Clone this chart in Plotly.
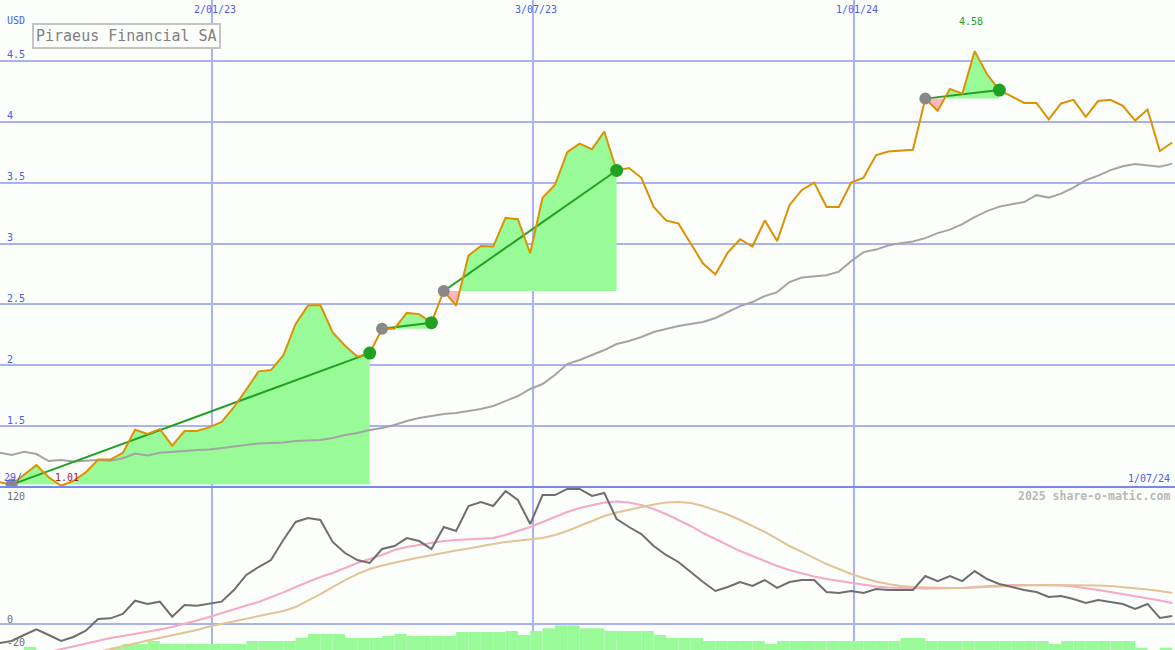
import numpy as np
import pandas as pd
import plotly.graph_objects as go

# ---------------- data ----------------
dates = pd.date_range("2022-09-03 15:00", periods=96, freq="7D")

price = [1.04, 1.02, 1.10, 1.18, 1.08, 1.01, 1.05, 1.12, 1.225, 1.225, 1.28,
         1.47, 1.435, 1.475, 1.34, 1.46, 1.46, 1.49, 1.535, 1.655, 1.80,
         1.95, 1.96, 2.08, 2.34, 2.49, 2.495, 2.27, 2.16, 2.07, 2.10,
         2.30, 2.30, 2.43, 2.42, 2.35, 2.61, 2.49, 2.90, 2.98, 2.975,
         3.21, 3.20, 2.92, 3.375, 3.48, 3.75, 3.82, 3.775, 3.92, 3.60,
         3.62, 3.54, 3.30, 3.19, 3.165, 3.00, 2.835, 2.745, 2.925, 3.035,
         2.975, 3.19, 3.02, 3.315, 3.44, 3.50, 3.30, 3.30, 3.50, 3.54,
         3.725, 3.755, 3.76, 3.77, 4.19, 4.09, 4.27, 4.23, 4.58, 4.39,
         4.26, 4.205, 4.155, 4.155, 4.02, 4.15, 4.18, 4.04, 4.17, 4.18,
         4.13, 4.01, 4.10, 3.76, 3.83]

moving_avg = [1.282, 1.263, 1.29, 1.271, 1.213, 1.222, 1.209, 1.218, 1.222, 1.216,
              1.236, 1.275, 1.259, 1.282, 1.287, 1.296, 1.304, 1.308, 1.32, 1.332,
              1.345, 1.357, 1.361, 1.365, 1.378, 1.382, 1.386, 1.402, 1.427, 1.443,
              1.468, 1.484, 1.509, 1.542, 1.566, 1.583, 1.599, 1.607, 1.624, 1.64,
              1.665, 1.706, 1.747, 1.805, 1.846, 1.92, 2.01, 2.043, 2.084, 2.125,
              2.174, 2.199, 2.232, 2.273, 2.297, 2.322, 2.338, 2.355, 2.388, 2.437,
              2.486, 2.519, 2.568, 2.601, 2.683, 2.72, 2.732, 2.74, 2.769, 2.855,
              2.929, 2.95, 2.983, 3.003, 3.016, 3.044, 3.085, 3.114, 3.159, 3.217,
              3.266, 3.303, 3.323, 3.34, 3.397, 3.377, 3.41, 3.459, 3.52, 3.557,
              3.603, 3.635, 3.652, 3.644, 3.631, 3.656]

# trend segments: (start index, end index) into the arrays above
segments = [(1, 30), (31, 35), (36, 50), (75, 81)]

momentum = [-16.3, -14.5, -9.3, -4.3, -9.3, -14.5, -11, -5.6, 4.6, 5.2,
            9.0, 20.5, 17.7, 19.7, 6.6, 16.8, 16.2, 17.7, 19.7, 29.8,
            42.9, 49.8, 55.9, 73.3, 89.0, 92.4, 90.7, 71.6, 62, 55.9,
            53.3, 65.5, 68.1, 75, 72.4, 65.5, 84.6, 81.1, 102.9, 106.3,
            102.9, 115.9, 108.1, 87.2, 112.4, 112.4, 117.7, 117.7, 111.6, 114.2,
            91.6, 84.6, 78.5, 68.1, 60.3, 54.2, 45.5, 36.8, 29, 32.4,
            36.8, 33.3, 38.5, 31.6, 36.8, 38.5, 38.5, 28.1, 27.2, 29,
            27.2, 30.7, 29.8, 29.8, 29.8, 42, 37.6, 42, 37.6, 46.3,
            39.4, 35, 32.4, 29.8, 28.1, 23.7, 24.6, 22, 18.5, 21.1,
            19.4, 17.7, 13.3, 17.7, 5.5, 7.2]

signal_fast = [None, None, None, None, -24.1, -21.7, -18.9, -16.5, -14, -11.9,
               -10.2, -8.4, -6.7, -4.5, -2.3, 0.3, 3.3, 6.3, 9.8, 12.9,
               16.3, 19.4, 23.3, 27.7, 32.4, 36.8, 41.1, 44.6, 49, 53.3,
               56.8, 60.3, 64.6, 67.2, 69, 70.7, 72.4, 73.3, 73.7, 74.2,
               75, 77.7, 81.1, 84.6, 89, 93.3, 97.7, 101.1, 103.7, 105.9,
               106.8, 105.9, 103.7, 100.3, 95.9, 90.7, 85.5, 79.4, 74.2, 69,
               63.7, 59.4, 55, 50.7, 47.2, 44.2, 41.6, 39.4, 37.7, 35.9,
               34.2, 32.9, 32, 31.6, 31.1, 31.1, 31.1, 31.1, 31.6, 32.4,
               33.3, 33.7, 34.2, 34.2, 34.2, 34.2, 33.7, 32.9, 31.6, 29.8,
               28.1, 26.3, 24.6, 22.9, 20.7, 18.5]

signal_slow = [None, None, None, None, None, None, None, None, -24, -21.7,
               -19.3, -16.7, -14.1, -11.9, -9.7, -7.6, -5, -1.9, 0.3, 2.4,
               4.6, 6.8, 9, 11.6, 15, 20.3, 26.3, 32.4, 38.5, 43.7,
               48.1, 51.1, 53.7, 55.9, 58.1, 60.3, 62, 64.2, 65.9, 68.1,
               69.8, 71.6, 72.9, 73.7, 75, 77.7, 81.1, 85.5, 89.8, 94.2,
               97.2, 99.8, 102, 104.2, 105.9, 106.3, 105.5, 102.9, 99.4, 95.5,
               90.7, 85.5, 80.3, 74.2, 68.1, 62.9, 57.7, 52.4, 48.1, 43.7,
               40.3, 37.2, 35, 33.3, 32.4, 32, 31.6, 31.6, 31.6, 32,
               32.4, 33.3, 33.7, 34.2, 34.2, 34.2, 34.2, 34.2, 34.2, 33.7,
               33.3, 32.4, 31.6, 30.3, 29, 27.2]

bar_tops = [None, None, -19.7, None, None, None, None, None, None, -20.3,
            -17.1, -17.1, -14.5, -17.1, -17.1, -17.1, -17.1, -17.1, -17.1, -17.1,
            -14.5, -14.5, -14.5, -14.5, -11.7, -8.4, -8.4, -8.4, -11.9, -11.9,
            -11.9, -10.2, -8.4, -10.2, -10.2, -10.2, -10.2, -6.7, -6.7, -6.7,
            -6.7, -5.8, -9.3, -5.8, -3.5, -0.9, -0.9, -3.5, -3.5, -5.8,
            -5.8, -5.8, -5.8, -9.3, -11.9, -11.9, -11.9, -14.5, -14.5, -14.5,
            -14.5, -14.5, -17.1, -14.5, -14.5, -14.5, -14.5, -14.5, -14.5, -14.5,
            -14.5, -14.5, -14.5, -11.9, -11.9, -14.5, -14.5, -14.5, -14.5, -14.5,
            -14.5, -14.5, -14.5, -14.5, -14.5, -17.1, -14.5, -14.5, -14.5, -14.5,
            -14.5, -14.5, -20.3, None, -20.3, None]

x_ticks = ["2023-01-02", "2023-07-03", "2024-01-01"]
x_tick_labels = ["2/01/23", "3/07/23", "1/01/24"]
y_ticks = [1.5, 2, 2.5, 3, 3.5, 4, 4.5]
y_tick_labels = ["1.5", "2", "2.5", "3", "3.5", "4", "4.5"]
y2_ticks = [120, 0, -20]
title = "Piraeus Financial SA"

# ---------------- styling ----------------
W, H = 1175, 650
SPLIT = 163 / H
BG = "#fcfefc"
GRID = "#a9b3f2"
BLUE = "#4a5cf0"
FONT = "DejaVu Sans Mono"
X_RANGE = ["2022-09-04 00:00", "2024-07-01 05:00"]
Y1_RANGE = [1.0, 5.0]
Y2_RANGE = [-22.35, 119.4]

fig = go.Figure()

# --- filled trend areas ---
tns = dates.values.astype("datetime64[ns]").astype(np.int64)
for s, e in segments:
    base = price[s]
    xs, ys = [tns[s]], [price[s]]
    for k in range(s, e):
        d0, d1 = price[k] - base, price[k + 1] - base
        if d0 * d1 < 0:
            f = d0 / (d0 - d1)
            xs.append(int(tns[k] + f * (tns[k + 1] - tns[k])))
            ys.append(base)
        xs.append(tns[k + 1])
        ys.append(price[k + 1])
    xd = pd.to_datetime(np.array(xs, dtype=np.int64))
    ya = np.array(ys)
    for arr, col in ((np.maximum(ya, base), "#98fb98"), (np.minimum(ya, base), "#ffb6c1")):
        fig.add_trace(go.Scatter(x=xd, y=[base] * len(xd), mode="lines",
                                 line=dict(width=0, color=col), hoverinfo="skip",
                                 showlegend=False))
        fig.add_trace(go.Scatter(x=xd, y=arr, mode="lines", fill="tonexty",
                                 fillcolor=col, line=dict(width=0, color=col),
                                 hoverinfo="skip", showlegend=False))

# --- moving average ---
fig.add_trace(go.Scatter(x=dates, y=moving_avg, mode="lines",
                         line=dict(color="#a4a4a4", width=2), showlegend=False))

# --- trend lines ---
for s, e in segments:
    fig.add_trace(go.Scatter(x=[dates[s], dates[e]], y=[price[s], price[e]],
                             mode="lines", line=dict(color="#22a022", width=2),
                             showlegend=False))

# --- price ---
fig.add_trace(go.Scatter(x=dates, y=price, mode="lines",
                         line=dict(color="#dc9200", width=2), showlegend=False))

# --- markers ---
fig.add_trace(go.Scatter(x=[dates[s] for s, e in segments],
                         y=[price[s] for s, e in segments], mode="markers",
                         marker=dict(color="#888888", size=12), showlegend=False))
fig.add_trace(go.Scatter(x=[dates[e] for s, e in segments],
                         y=[price[e] for s, e in segments], mode="markers",
                         marker=dict(color="#22a022", size=13), showlegend=False))

# --- lower panel ---
bar_len = [None if v is None else v - Y2_RANGE[0] for v in bar_tops]
fig.add_trace(go.Bar(x=dates, y=bar_len, base=Y2_RANGE[0], width=7 * 86400000,
                     offset=0, marker=dict(color="#98fb98", line=dict(width=0)),
                     xaxis="x2", yaxis="y2", showlegend=False))
fig.add_trace(go.Scatter(x=dates, y=signal_fast, mode="lines",
                         line=dict(color="#f6a8c4", width=2),
                         xaxis="x2", yaxis="y2", showlegend=False))
fig.add_trace(go.Scatter(x=dates, y=signal_slow, mode="lines",
                         line=dict(color="#e2c494", width=2),
                         xaxis="x2", yaxis="y2", showlegend=False))
fig.add_trace(go.Scatter(x=dates, y=momentum, mode="lines",
                         line=dict(color="#6e6e6e", width=2),
                         xaxis="x2", yaxis="y2", showlegend=False))

# ---------------- annotations ----------------
ann = []
def txt(text, x, y, color=BLUE, size=10, xanchor="left", xref="paper", yref="paper",
        xshift=0, yshift=0, **kw):
    ann.append(dict(text=text, x=x, y=y, xref=xref, yref=yref, showarrow=False,
                    xanchor=xanchor, yanchor="middle", xshift=xshift, yshift=yshift,
                    font=dict(family=FONT, size=size, color=color), **kw))

for v, lab in zip(x_ticks, x_tick_labels):
    txt(lab, v, 1 - 10 / H, xanchor="center", xref="x", xshift=3)
for v, lab in zip(y_ticks, y_tick_labels):
    txt(lab, 5 / W, v, yref="y", yshift=6)
txt("USD", 5 / W, 1 - 21 / H)
txt("29/", 2 / W, 1 - 477 / H)
txt("1/07/24", 1172 / W, 1 - 478 / H, xanchor="right")
for v in y2_ticks:
    yy = {120: 496, 0: 619, -20: 642}[v]
    txt(str(v), 5 / W, 1 - yy / H, color="#707070")
txt("<b>2025 share-o-matic.com</b>", 1172 / W, 1 - 496 / H, color="#b8b8b8",
    size=11.5, xanchor="right")

imin = int(np.argmin(price))
imax = int(np.argmax(price))
txt(f"{price[imin]:.2f}", dates[imin], price[imin], color="#a81c1c",
    xanchor="center", xref="x", yref="y", xshift=6, yshift=8)
txt(f"{price[imax]:.2f}", dates[imax], price[imax], color="#22a022",
    xanchor="center", xref="x", yref="y", xshift=-4, yshift=30)

ann.append(dict(text=title, x=32 / W, y=1 - 36 / H, xref="paper", yref="paper",
                showarrow=False, xanchor="left", yanchor="middle",
                font=dict(family=FONT, size=15, color="#808080"),
                bordercolor="#c4c4c4", borderwidth=2, borderpad=2, bgcolor=BG))

fig.update_layout(
    width=W, height=H, autosize=False,
    margin=dict(l=0, r=0, t=0, b=0, pad=0),
    paper_bgcolor=BG, plot_bgcolor=BG,
    showlegend=False, barmode="overlay",
    annotations=ann,
    xaxis=dict(range=X_RANGE, domain=[0, 1], anchor="y", tickvals=x_ticks,
               showticklabels=False, ticks="", showgrid=True, gridcolor=GRID,
               gridwidth=2, zeroline=False, showline=False),
    xaxis2=dict(range=X_RANGE, domain=[0, 1], anchor="y2", matches="x",
                tickvals=x_ticks, showticklabels=False, ticks="", showgrid=True,
                gridcolor=GRID, gridwidth=2, zeroline=False, showline=False),
    yaxis=dict(range=Y1_RANGE, domain=[SPLIT, 1], anchor="x", tickvals=y_ticks,
               showticklabels=False, ticks="", showgrid=True, gridcolor=GRID,
               gridwidth=2, zeroline=False, showline=False),
    yaxis2=dict(range=Y2_RANGE, domain=[0, SPLIT], anchor="x2", tickvals=[0],
                showticklabels=False, ticks="", showgrid=True, gridcolor=GRID,
                gridwidth=2, zeroline=False, showline=False),
    shapes=[dict(type="line", xref="paper", yref="paper", x0=0, x1=1,
                 y0=SPLIT, y1=SPLIT, line=dict(color="#7888f0", width=2),
                 layer="above")],
)

fig.write_html("out.html", config={"displayModeBar": False},
               post_script="document.body.style.margin='0';")
